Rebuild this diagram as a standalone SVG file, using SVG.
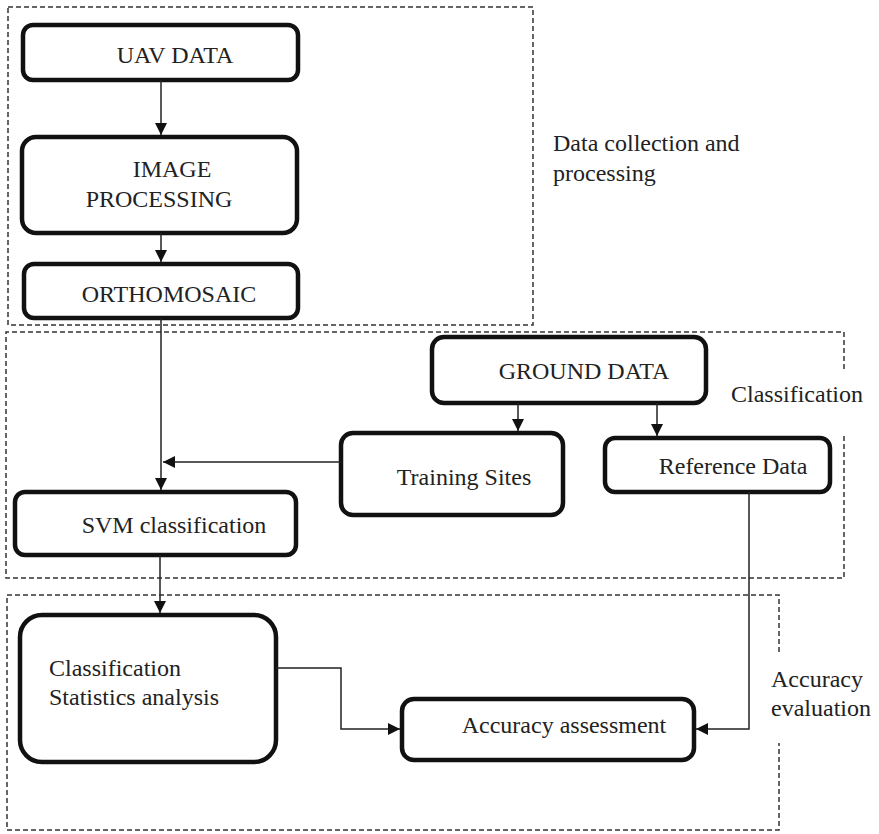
<svg xmlns="http://www.w3.org/2000/svg" width="879" height="834" viewBox="0 0 879 834">
<defs>
<marker id="ah" viewBox="0 0 12 12" refX="12" refY="6" markerWidth="12" markerHeight="12" markerUnits="userSpaceOnUse" orient="auto">
<path d="M0,0 L12,6 L0,12 Z" fill="#111"/>
</marker>
</defs>
<style>
.node{fill:#fff;stroke:#111;stroke-width:4.5}
.grp{fill:none;stroke:#333;stroke-width:1.5;stroke-dasharray:5 3}
.t{font-size:24px;fill:#222}
.c{text-anchor:middle}
.edge{fill:none;stroke:#222;stroke-width:1.5}
</style>
<g id="groups">
<rect class="grp" x="8" y="7" width="525" height="318"/>
<path class="grp" d="M844,369 L844,332 L6,332 L6,578 L844,578 L844,434"/>
<path class="grp" d="M779,652 L779,595 L7,595 L7,830 L779,830 L779,743"/>
</g>
<g id="labels" font-family="Liberation Serif, DejaVu Serif, serif">
<text class="t" x="553" y="151">Data collection and</text>
<text class="t" x="553" y="181">processing</text>
<text class="t" x="731" y="402">Classification</text>
<text class="t" x="771" y="687">Accuracy</text>
<text class="t" x="771" y="716">evaluation</text>
</g>
<g id="nodes" font-family="Liberation Serif, DejaVu Serif, serif">
<g id="uav">
<rect class="node" x="23" y="25" width="275" height="55" rx="10"/>
<text class="t c" x="175" y="63">UAV DATA</text>
</g>
<g id="imgproc">
<rect class="node" x="22" y="137" width="275" height="96" rx="14"/>
<text class="t c" x="172" y="177">IMAGE</text>
<text class="t c" x="159" y="207">PROCESSING</text>
</g>
<g id="ortho">
<rect class="node" x="24" y="264" width="274" height="54" rx="10"/>
<text class="t c" x="169" y="302">ORTHOMOSAIC</text>
</g>
<g id="ground">
<rect class="node" x="432" y="337" width="274" height="66" rx="12"/>
<text class="t c" x="584" y="379">GROUND DATA</text>
</g>
<g id="training">
<rect class="node" x="341" y="433" width="222" height="82" rx="12"/>
<text class="t c" x="464" y="485">Training Sites</text>
</g>
<g id="reference">
<rect class="node" x="605" y="438" width="225" height="54" rx="10"/>
<text class="t c" x="733" y="474">Reference Data</text>
</g>
<g id="svm">
<rect class="node" x="15" y="492" width="281" height="63" rx="10"/>
<text class="t c" x="174" y="533">SVM classification</text>
</g>
<g id="stats">
<rect class="node" x="20" y="615" width="256" height="147" rx="22"/>
<text class="t" x="49" y="676">Classification</text>
<text class="t" x="49" y="705">Statistics analysis</text>
</g>
<g id="accuracy">
<rect class="node" x="402" y="699" width="292" height="61" rx="12"/>
<text class="t c" x="564" y="733">Accuracy assessment</text>
</g>
</g>
<g id="connectors">
<line class="edge" x1="161" y1="80" x2="161" y2="135" marker-end="url(#ah)"/>
<line class="edge" x1="161" y1="233" x2="161" y2="262" marker-end="url(#ah)"/>
<line class="edge" x1="161" y1="318" x2="161" y2="490" marker-end="url(#ah)"/>
<line class="edge" x1="341" y1="462" x2="163" y2="462" marker-end="url(#ah)"/>
<line class="edge" x1="518" y1="403" x2="518" y2="431" marker-end="url(#ah)"/>
<line class="edge" x1="657" y1="403" x2="657" y2="436" marker-end="url(#ah)"/>
<line class="edge" x1="160" y1="555" x2="160" y2="613" marker-end="url(#ah)"/>
<polyline class="edge" points="276,668 341,668 341,729 400,729" marker-end="url(#ah)"/>
<polyline class="edge" points="749,492 749,729 696,729" marker-end="url(#ah)"/>
</g>
</svg>
